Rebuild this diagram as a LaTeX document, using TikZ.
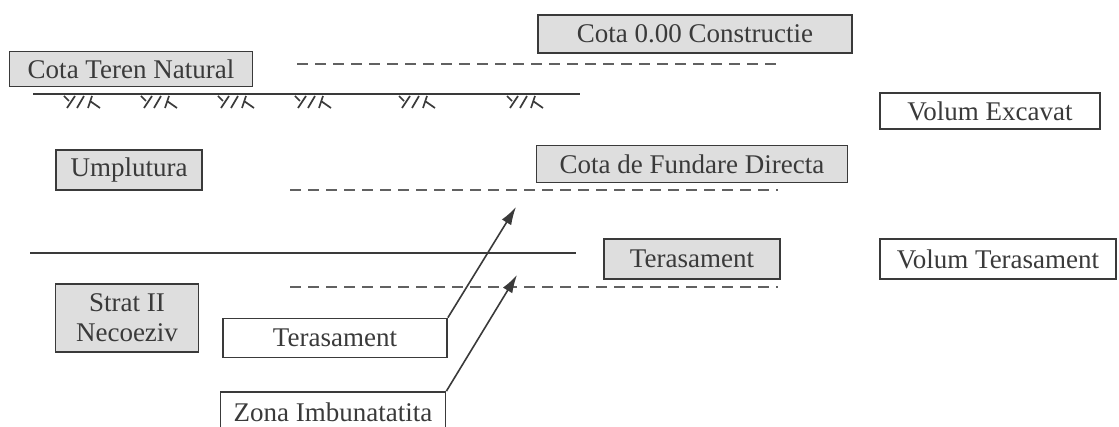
\documentclass[tikz,border=0pt]{standalone}
\usepackage{fontspec}
\setmainfont{Liberation Serif}
\usetikzlibrary{arrows.meta}
\definecolor{boxgray}{HTML}{DEDEDE}
\definecolor{inkgray}{HTML}{3A3A3A}
\begin{document}
\begin{tikzpicture}[x=1pt,y=-1pt,
    lbl/.style={draw=inkgray,line width=1.8pt,rectangle,inner sep=0pt,text=inkgray,font=\fontsize{27}{30}\selectfont},
    grey/.style={lbl,fill=boxgray},
    level/.style={draw=inkgray!80,line width=1.9pt,dash pattern=on 11pt off 7pt},
    layer/.style={draw=inkgray,line width=1.9pt},
    pointer/.style={draw=inkgray,line width=1.6pt,-{Latex[length=18pt,width=11pt]}}]
  \useasboundingbox (0,0) rectangle (1119,427);
  \draw
    (695,34) node[grey,minimum width=314pt,minimum height=38pt] (cota0){Cota 0.00 Constructie}
    (131,69) node[grey,minimum width=243pt,minimum height=35pt] (teren){Cota Teren Natural}
    (990,111) node[lbl,minimum width=220pt,minimum height=36pt] (excavat){Volum Excavat}
    (129,170) node[grey,minimum width=146pt,minimum height=40pt] (umpl){Umplutura}
    (692,164) node[grey,minimum width=311pt,minimum height=37pt] (fundare){Cota de Fundare Directa}
    (692,259) node[grey,minimum width=176pt,minimum height=40pt] (teras){Terasament}
    (998,259) node[lbl,minimum width=236pt,minimum height=40pt] (volteras){Volum Terasament}
    (127,318) node[grey,minimum width=143pt,minimum height=68pt,align=center] (strat){Strat II\\Necoeziv}
    (335,338) node[lbl,minimum width=224pt,minimum height=39pt] (terasw){Terasament}
    (333,412) node[lbl,minimum width=225pt,minimum height=40pt] (zona){Zona Imbunatatita};
  \coordinate (a1) at (516,207);
  \coordinate (a2) at (517,275);
  \begin{scope}
    \draw[level] (297,64) -- (778,64);
    \draw[level] (290,190) -- (778,190);
    \draw[level] (290,287) -- (778,287);
    \draw[layer] (33,94) -- (580,94);
    \draw[layer] (30,253) -- (576,253);
  \end{scope}
  % hatch under natural ground
  \foreach \hx in {63,140,217,294,398,506} {
    \draw[inkgray,line width=1.7pt]
      (\hx+1,96) -- (\hx+6,101) (\hx+12,96) -- (\hx+4,108)
      (\hx+21,96) -- (\hx+14,108)
      (\hx+29,96) -- (\hx+25,108) (\hx+27,101) -- (\hx+37,108);
  }
  \draw[pointer] (terasw.north east) -- (a1);
  \draw[pointer] (zona.north east) -- (a2);
\end{tikzpicture}
\end{document}
